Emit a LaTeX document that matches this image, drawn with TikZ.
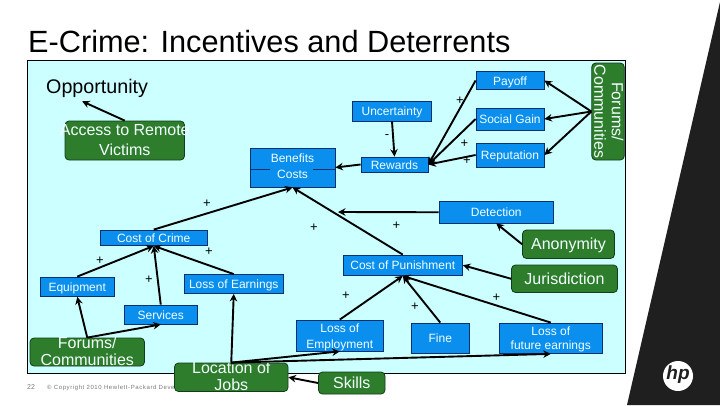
\documentclass[tikz,border=0pt]{standalone}
\usepackage{graphicx}
\usepackage{fontspec}
\setmainfont{Liberation Sans}
\usetikzlibrary{arrows.meta}
\definecolor{panelc}{HTML}{CCFFFF}
\definecolor{blueb}{HTML}{0A8FEE}
\definecolor{blueline}{HTML}{06306E}
\definecolor{greenb}{HTML}{2E7D2C}
\definecolor{greenline}{HTML}{123D18}
\definecolor{darkc}{HTML}{1F1F1F}
\definecolor{footc}{HTML}{7A7A7A}
\definecolor{txtc}{HTML}{F2FFFF}
\newcommand{\tx}[1]{\makebox[0pt]{\smash{\raisebox{-.36em}{\begin{tabular}{@{}c@{}}#1\end{tabular}}}}}
\tikzset{
  x=1pt,y=-1pt,
  bluebox/.style={draw=blueline,line width=.8pt,fill=blueb,text=txtc,inner sep=0pt,font=\fontsize{12}{16}\selectfont},
  greenbox/.style={draw=greenline,line width=.8pt,fill=greenb,text=txtc,inner sep=0pt,rounded corners=4pt,font=\fontsize{16}{20}\selectfont},
  link/.style={line width=1.9pt,black,-{Stealth[length=7.5pt,width=7.5pt]}},
  plusn/.style={inner sep=0pt,font=\fontsize{13}{14}\selectfont,text=black},
}
\begin{document}
\begin{tikzpicture}
\useasboundingbox (0,0) rectangle (720,405);
\fill[white] (0,0) rectangle (720,405);
\fill[darkc] (720,2) -- (720,405) -- (627,405) -- cycle;
\fill[white] (678,376) circle (15);
\node[inner sep=0pt,text=darkc,font=\fontsize{19}{19}\selectfont\bfseries\itshape] (hp) at (678,375) {hp};
\node[anchor=base west,inner sep=0pt,font=\fontsize{30.7}{34}\selectfont] (title) at (28,52) {E-Crime: Incentives and Deterrents};
\draw[black,line width=.8pt,fill=panelc] (27,60.5) rectangle (625.5,373);
\node[anchor=base west,inner sep=0pt,text=footc,font=\fontsize{7}{8}\selectfont] (pg) at (27,389) {22};
\node[anchor=base west,inner sep=0pt,text=footc,font=\fontsize{6}{8}\selectfont\addfontfeature{LetterSpace=10}] (copy) at (47,389) {© Copyright 2010 Hewlett-Packard Devel};
\node[anchor=base west,inner sep=0pt,font=\fontsize{19.7}{22}\selectfont] (opp) at (46,93) {Opportunity};

% blue boxes
\node[bluebox,minimum width=85pt,minimum height=39pt] (ben) at (292.5,167.5) {\raisebox{2.5pt}{\tx{Benefits\\Costs}}};
\node[bluebox,minimum width=78.5pt,minimum height=20pt] (unc) at (392,111) {\tx{Uncertainty}};
\node[bluebox,minimum width=67pt,minimum height=15pt] (rew) at (394.5,164.5) {\tx{Rewards}};
\node[bluebox,minimum width=68pt,minimum height=18pt] (pay) at (510,80.5) {\tx{Payoff}};
\node[bluebox,minimum width=68pt,minimum height=22pt] (soc) at (510,119) {\tx{Social Gain}};
\node[bluebox,minimum width=68pt,minimum height=24pt] (rep) at (510,155) {\tx{Reputation}};
\node[bluebox,minimum width=114.5pt,minimum height=21.5pt] (det) at (496.25,212.25) {\tx{Detection}};
\node[bluebox,minimum width=107.5pt,minimum height=15.5pt] (coc) at (153.75,237.75) {\tx{Cost of Crime}};
\node[bluebox,minimum width=74.5pt,minimum height=19.5pt] (equ) at (77.25,286.75) {\tx{Equipment}};
\node[bluebox,minimum width=73.5pt,minimum height=19pt] (ser) at (160.75,314.5) {\tx{Services}};
\node[bluebox,minimum width=99.5pt,minimum height=19pt] (ear) at (233.75,284) {\tx{Loss of Earnings}};
\node[bluebox,minimum width=87.5pt,minimum height=31pt] (emp) at (339.75,335.5) {\tx{Loss of\\Employment}};
\node[bluebox,minimum width=119.5pt,minimum height=20.5pt] (pun) at (402.75,265.25) {\tx{Cost of Punishment}};
\node[bluebox,minimum width=58.5pt,minimum height=30.5pt] (fin) at (440.25,338.25) {\tx{Fine}};
\node[bluebox,minimum width=103.5pt,minimum height=30.5pt,font=\fontsize{12}{13.5}\selectfont] (fut) at (550.75,338.25) {\tx{Loss of\\future earnings}};
\draw[blueline,line width=.8pt] ([yshift=-1.5pt]ben.west) -- ++(20,0);
\draw[blueline,line width=.8pt] ([yshift=-1.5pt]ben.east) -- ++(-22,0);

% green boxes
\node[greenbox,minimum width=119.5pt,minimum height=39pt] (acc) at (124.75,140.5) {\tx{Access to Remote\\Victims}};
\node[greenbox,minimum width=32.5pt,minimum height=97pt,font=\fontsize{16}{17.5}\selectfont] (forr) at (608,111.5) {\rotatebox[origin=c]{-90}{\tx{Forums/\\Communities}}};
\node[greenbox,minimum width=114.5pt,minimum height=28pt,font=\fontsize{16}{17.5}\selectfont] (forl) at (87.25,352) {\tx{Forums/\\Communities}};
\node[greenbox,minimum width=113.5pt,minimum height=28.5pt,font=\fontsize{16}{17}\selectfont] (loc) at (231.25,377.25) {\tx{Location of\\Jobs}};
\node[greenbox,minimum width=66.5pt,minimum height=22pt] (ski) at (351.75,383) {\tx{Skills}};
\node[greenbox,minimum width=92pt,minimum height=28.5pt] (ano) at (568.5,244.25) {\tx{Anonymity}};
\node[greenbox,minimum width=106pt,minimum height=27.5pt] (jur) at (564.5,278.75) {\tx{Jurisdiction}};

% free end of the detection connector
\coordinate (detend) at (338,212);

% connectors
\draw[link] (acc.north) -- ([xshift=-15pt,yshift=-4pt]opp.south);
\draw[link] (unc.south) -- (rew.north);
\draw[link] (rew.west) -- (ben.east);
\draw[link] (pay.west) -- (rew.east);
\draw[link] (soc.west) -- (rew.east);
\draw[link] (rep.west) -- (rew.east);
\draw[link] (forr.west) -- (pay.east);
\draw[link] (forr.west) -- (soc.east);
\draw[link] (forr.west) -- (rep.east);
\draw[link] (det.west) -- (detend);
\draw[link] (pun.north) -- (ben.south);
\draw[link] (coc.north) -- (ben.south);
\draw[link] (equ.north) -- (coc.south);
\draw[link] (ser.north) -- (coc.south);
\draw[link] (ear.north) -- (coc.south);
\draw[link] (forl.north) -- (equ.south);
\draw[link] (forl.north) -- (ser.south);
\draw[link] (loc.north) -- (ear.south);
\draw[link] (loc.north) -- (emp.south);
\draw[link] (loc.north) -- (fut.south);
\draw[link] (ski.west) -- (loc.east);
\draw[link] (emp.north) -- (pun.south);
\draw[link] (fin.north) -- (pun.south);
\draw[link] (fut.north) -- (pun.south);
\draw[link] (ano.west) -- (det.south);
\draw[link] (jur.west) -- (pun.east);

% signs
\node[plusn] (s1) at (460,100.5) {+};
\node[plusn] (s2) at (387,137) {-};
\node[plusn] (s3) at (464.5,143.5) {+};
\node[plusn] (s4) at (467,161) {+};
\node[plusn] (s5) at (207,204) {+};
\node[plusn] (s6) at (314,228) {+};
\node[plusn] (s7) at (396.5,226) {+};
\node[plusn] (s8) at (209,252) {+};
\node[plusn] (s9) at (100,261) {+};
\node[plusn] (s10) at (149,280) {+};
\node[plusn] (s11) at (346,296) {+};
\node[plusn] (s12) at (415,307) {+};
\node[plusn] (s13) at (496.5,298) {+};
\end{tikzpicture}
\end{document}
